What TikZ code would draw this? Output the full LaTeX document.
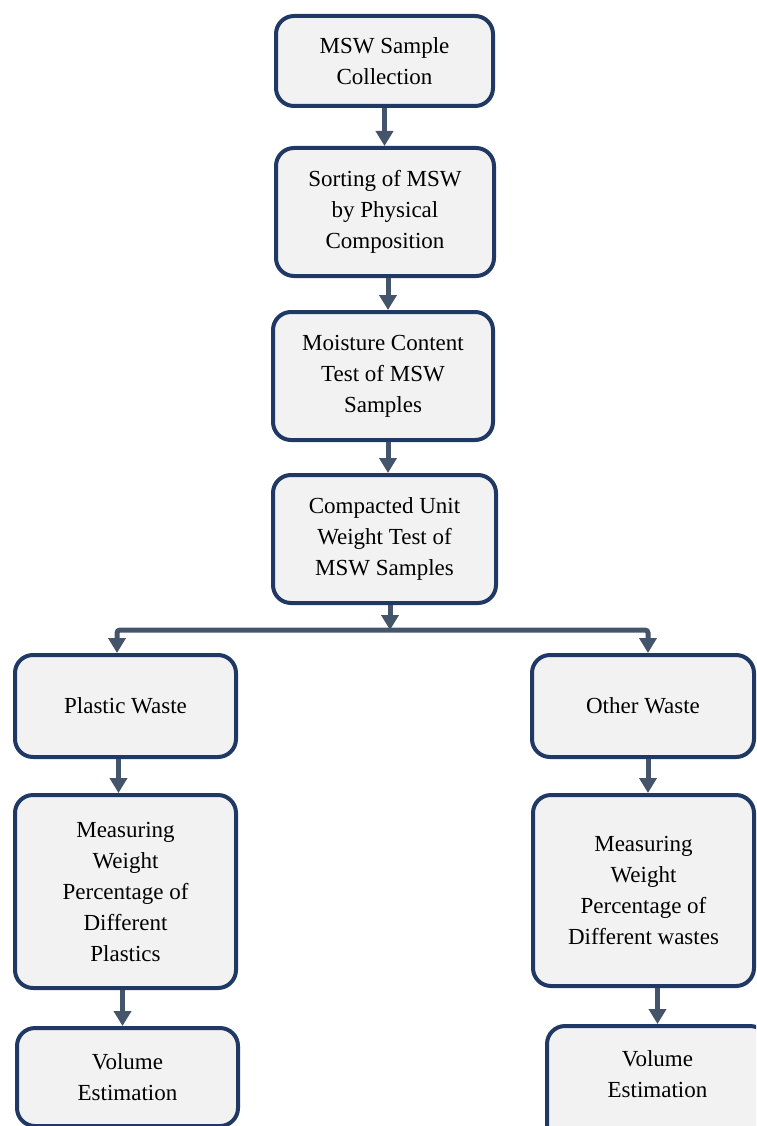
\documentclass[tikz,border=0pt]{standalone}
\usepackage{fontspec}
\setmainfont{Liberation Serif}
\usetikzlibrary{arrows.meta}
\definecolor{boxline}{HTML}{203864}
\definecolor{boxfill}{HTML}{F2F2F2}
\definecolor{arrc}{HTML}{44546A}
\tikzset{
  stepbox/.style={draw=boxline, line width=4pt, fill=boxfill, rounded corners=18pt,
    align=center, inner sep=0pt, font=\fontsize{23}{31}\selectfont, text=black},
  arr/.style={draw=arrc, line width=5pt, -{Triangle[length=15pt,width=17pt]}}
}
\begin{document}
\begin{tikzpicture}[x=1pt,y=-1pt]
\useasboundingbox (0,0) rectangle (756,1126);
\clip (0,0) rectangle (756,1126);
\node[stepbox, minimum width=217pt, minimum height=90pt] (b1) at (384.5,61) {MSW Sample\\Collection};
\node[stepbox, minimum width=218pt, minimum height=128pt] (b2) at (385,212) {Sorting of MSW\\by Physical\\Composition};
\node[stepbox, minimum width=220pt, minimum height=128pt] (b3) at (383,376) {Moisture Content\\Test of MSW\\Samples};
\node[stepbox, minimum width=223pt, minimum height=128pt] (b4) at (384.5,539) {Compacted Unit\\Weight Test of\\MSW Samples};
\node[stepbox, minimum width=221pt, minimum height=102pt] (b5) at (125.5,706) {Plastic Waste};
\node[stepbox, minimum width=222pt, minimum height=102pt] (b6) at (643,706) {Other Waste};
\node[stepbox, minimum width=221pt, minimum height=193pt] (b7) at (125.5,891.5) {Measuring\\Weight\\Percentage of\\Different\\Plastics};
\node[stepbox, minimum width=221pt, minimum height=191pt] (b8) at (643.5,890.5) {Measuring\\Weight\\Percentage of\\Different wastes};
\node[stepbox, minimum width=221pt, minimum height=98pt] (b9) at (127.5,1077) {Volume\\Estimation};
\node[stepbox, minimum width=221pt, minimum height=120pt, text depth=24pt] (b10) at (657.5,1086) {Volume\\Estimation};
\coordinate (j) at (390,630);
\coordinate (jl) at (117,630);
\coordinate (jr) at (648,630);
\draw[arr] (b1.south) -- (b1.south |- b2.north);
\draw[arr] ([xshift=3pt]b2.south) -- ([xshift=3pt]b2.south |- b3.north);
\draw[arr] ([xshift=5pt]b3.south) -- ([xshift=5pt]b3.south |- b4.north);
\draw[arr] (b4.south -| j) -- (j);
\draw[arr, rounded corners=3pt] (j) -- (jl) -- (b5.north -| jl);
\draw[arr, rounded corners=3pt] (j) -- (jr) -- (b6.north -| jr);
\draw[arr] ([xshift=-7pt]b5.south) -- ([xshift=-7pt]b5.south |- b7.north);
\draw[arr] ([xshift=-3pt]b7.south) -- ([xshift=-3pt]b7.south |- b9.north);
\draw[arr] ([xshift=5pt]b6.south) -- ([xshift=5pt]b6.south |- b8.north);
\draw[arr] ([xshift=14pt]b8.south) -- ([xshift=14pt]b8.south |- b10.north);
\end{tikzpicture}
\end{document}
